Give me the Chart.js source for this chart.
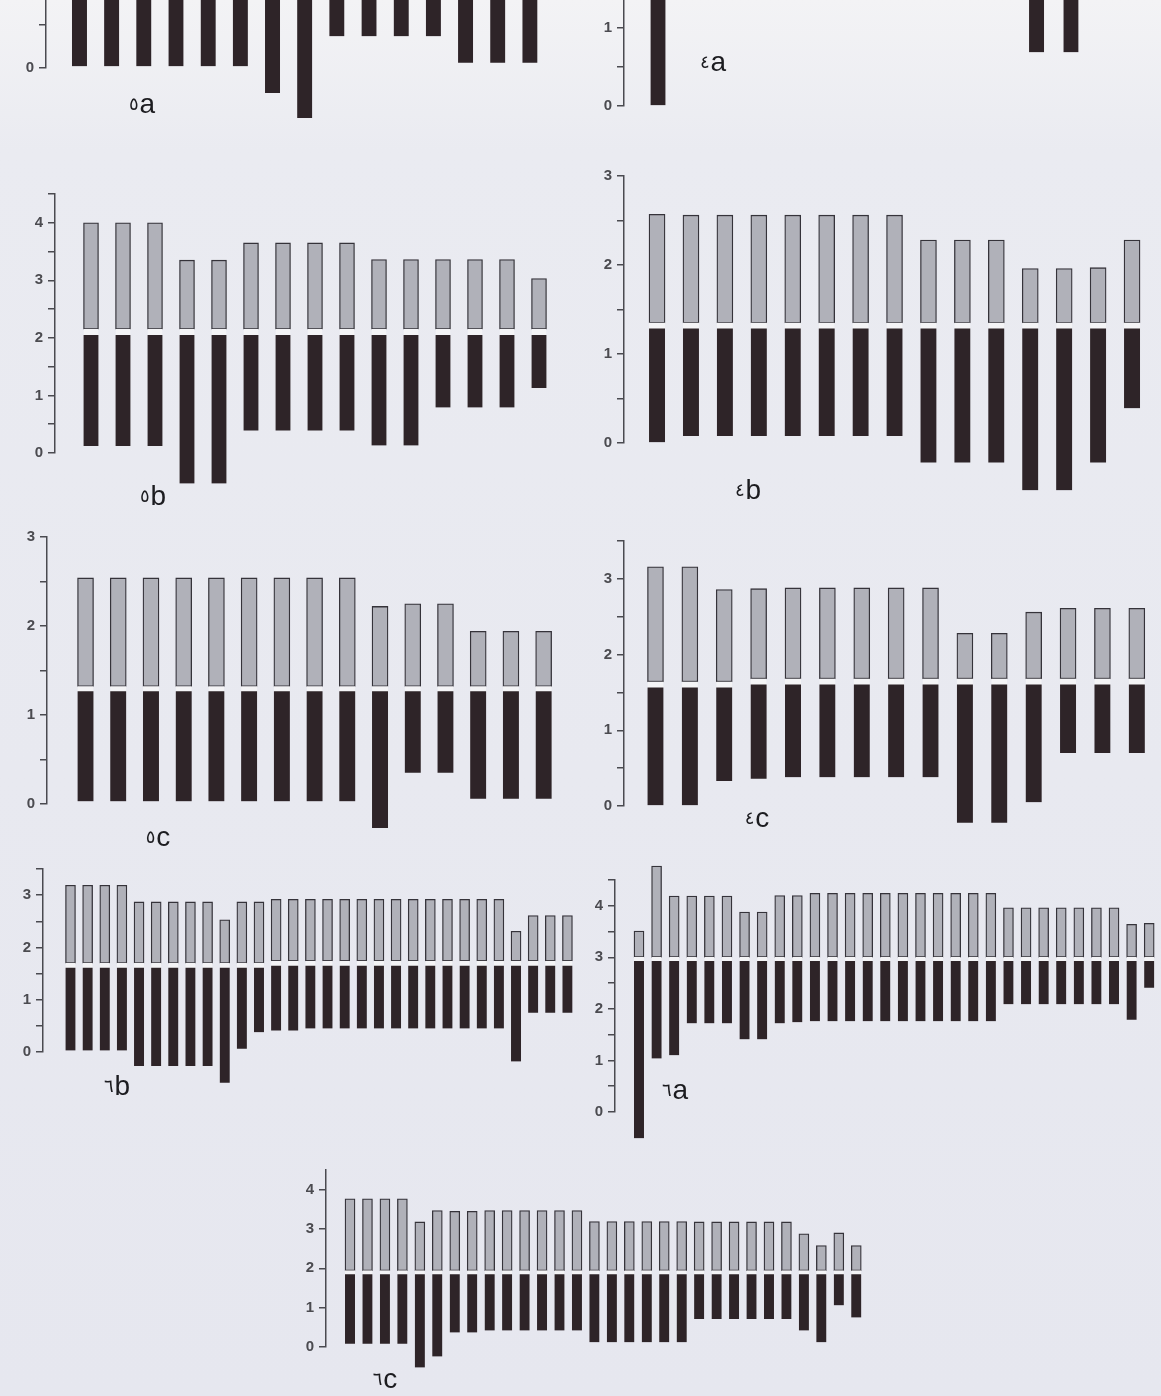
<!DOCTYPE html>
<html>
<head>
<meta charset="utf-8">
<script src="https://cdn.jsdelivr.net/npm/chart.js@4.4.1/dist/chart.umd.min.js"></script>
<style>
  html, body { margin: 0; padding: 0; }
  body {
    width: 1161px; height: 1396px; position: relative; overflow: hidden;
    background: linear-gradient(#f3f3f5 0px, #eaebf1 150px, #e6e7ef 100%);
    font-family: 'Liberation Sans', Arial, sans-serif;
  }
  canvas { position: absolute; }
  .lbl { position: absolute; transform: translate(-50%, -50%); font-size: 28px; color: #1c1c20; white-space: nowrap; }
  .lbl span { font-family: 'DejaVu Sans', sans-serif; font-size: 18px; position: relative; top: -3px; margin-right: 1px; }
</style>
</head>
<body>
<script>
// bar numbers (categories) for the short and the long panels
var bars15 = [1, 2, 3, 4, 5, 6, 7, 8, 9, 10, 11, 12, 13, 14, 15];
var bars30 = [1, 2, 3, 4, 5, 6, 7, 8, 9, 10, 11, 12, 13, 14, 15, 16, 17, 18, 19, 20,
              21, 22, 23, 24, 25, 26, 27, 28, 29, 30];

// low = bottom of dark part, mid = where the grey part starts, high = top of grey part
// 5a / 4a are cut at the top of the page, only the lower ends are visible
var low5a = [0.02, 0.02, 0.02, 0.02, 0.02, 0.02, -0.29, -0.62, 0.37, 0.37, 0.37, 0.37, 0.06, 0.06, 0.06];
var mid5a = 1.3;

var low4a = [0.0, null, null, null, null, null, null, null, null, null, null, 0.69, 0.69, null, null];
var mid4a = 1.45;

var low5b  = [0.12, 0.12, 0.12, -0.53, -0.53, 0.39, 0.39, 0.39, 0.39, 0.13, 0.13, 0.79, 0.79, 0.79, 1.13];
var mid5b  = 2.15;
var high5b = [4.0, 4.0, 4.0, 3.35, 3.35, 3.65, 3.65, 3.65, 3.65, 3.36, 3.36, 3.36, 3.36, 3.36, 3.03];

var low4b  = [0.0, 0.08, 0.08, 0.08, 0.08, 0.08, 0.08, 0.08, -0.22, -0.22, -0.22, -0.53, -0.53, -0.22, 0.39];
var mid4b  = 1.35;
var high4b = [2.57, 2.56, 2.56, 2.56, 2.56, 2.56, 2.56, 2.56, 2.28, 2.28, 2.28, 1.96, 1.96, 1.97, 2.28];

var low5c  = [0.03, 0.03, 0.03, 0.03, 0.03, 0.03, 0.03, 0.03, 0.03, -0.27, 0.35, 0.35, 0.06, 0.06, 0.06];
var mid5c  = 1.32;
var high5c = [2.54, 2.54, 2.54, 2.54, 2.54, 2.54, 2.54, 2.54, 2.54, 2.22, 2.25, 2.25, 1.94, 1.94, 1.94];

var low4c  = [0.01, 0.01, 0.33, 0.36, 0.38, 0.38, 0.38, 0.38, 0.38, -0.22, -0.22, 0.05, 0.7, 0.7, 0.7];
var mid4c  = [1.64, 1.64, 1.64, 1.68, 1.68, 1.68, 1.68, 1.68, 1.68, 1.68, 1.68, 1.68, 1.68, 1.68, 1.68];
var high4c = [3.16, 3.16, 2.86, 2.87, 2.88, 2.88, 2.88, 2.88, 2.88, 2.28, 2.28, 2.56, 2.61, 2.61, 2.61];

var low6b  = [0.03, 0.03, 0.03, 0.03, -0.27, -0.27, -0.27, -0.27, -0.27, -0.59, 0.06, 0.38, 0.41, 0.41, 0.45,
              0.45, 0.45, 0.45, 0.45, 0.45, 0.45, 0.45, 0.45, 0.45, 0.45, 0.45, -0.18, 0.75, 0.75, 0.75];
var mid6b  = [1.7, 1.7, 1.7, 1.7, 1.7, 1.7, 1.7, 1.7, 1.7, 1.7, 1.7, 1.7, 1.74, 1.74, 1.74,
              1.74, 1.74, 1.74, 1.74, 1.74, 1.74, 1.74, 1.74, 1.74, 1.74, 1.74, 1.74, 1.74, 1.74, 1.74];
var high6b = [3.19, 3.19, 3.19, 3.19, 2.87, 2.87, 2.87, 2.87, 2.87, 2.53, 2.87, 2.87, 2.92, 2.92, 2.92,
              2.92, 2.92, 2.92, 2.92, 2.92, 2.92, 2.92, 2.92, 2.92, 2.92, 2.92, 2.31, 2.61, 2.61, 2.61];

var low6a  = [-0.51, 1.04, 1.1, 1.72, 1.72, 1.72, 1.41, 1.41, 1.72, 1.74, 1.76, 1.76, 1.76, 1.76, 1.76,
              1.76, 1.76, 1.76, 1.76, 1.76, 1.76, 2.09, 2.09, 2.09, 2.09, 2.09, 2.09, 2.09, 1.79, 2.41];
var mid6a  = 3.0;
var high6a = [3.51, 4.77, 4.19, 4.19, 4.19, 4.19, 3.88, 3.88, 4.2, 4.2, 4.24, 4.24, 4.24, 4.24, 4.24,
              4.24, 4.24, 4.24, 4.24, 4.24, 4.24, 3.96, 3.96, 3.96, 3.96, 3.96, 3.96, 3.96, 3.64, 3.66];

var low6c  = [0.08, 0.08, 0.08, 0.08, -0.52, -0.24, 0.37, 0.37, 0.42, 0.42, 0.42, 0.42, 0.42, 0.42, 0.12,
              0.12, 0.12, 0.12, 0.12, 0.12, 0.71, 0.71, 0.71, 0.71, 0.71, 0.71, 0.42, 0.12, 1.06, 0.75];
var mid6c  = 1.94;
var high6c = [3.77, 3.77, 3.77, 3.77, 3.18, 3.47, 3.45, 3.45, 3.47, 3.47, 3.47, 3.47, 3.47, 3.47, 3.19,
              3.19, 3.19, 3.19, 3.19, 3.19, 3.18, 3.18, 3.18, 3.18, 3.18, 3.18, 2.88, 2.58, 2.9, 2.58];

var AXIS_W = 40;
var DARK = '#2e2428';
var GREY = '#b0b1b9';
var EDGE = '#35333a';
var GAP = '#f4f4f6';
var AXIS = '#4a4a50';

function val(a, i) {
  return Array.isArray(a) ? a[i] : a;
}

// one panel = one chart, placed on the page by its axis position
function panel(p) {
  var lastPx = p.first + (p.cats.length - 1) * p.spacing;
  var right = lastPx + p.spacing / 2;
  var padTop = p.yTop > 0 ? 20 : 0;
  var padBottom = 50;
  var cv = document.createElement('canvas');
  cv.width = Math.round(AXIS_W + (right - p.axisX) + 4);
  cv.height = Math.round((p.y0 - p.yTop) + padTop + padBottom);
  cv.style.left = (p.axisX - AXIS_W) + 'px';
  cv.style.top = (p.yTop - padTop) + 'px';
  document.body.appendChild(cv);

  var darkPts = [];
  var greyPts = [];
  p.cats.forEach(function (c, i) {
    if (p.low[i] != null) darkPts.push({ x: c, y: [p.low[i], val(p.mid, i)] });
    if (p.high && p.high[i] != null) greyPts.push({ x: c, y: [val(p.mid, i), p.high[i]] });
  });

  var clip = { left: false, right: false, top: p.yTop > 0 ? false : 0, bottom: false };
  var datasets = [{
    data: darkPts,
    backgroundColor: DARK,
    borderColor: GAP,
    borderWidth: { top: p.gap, left: 0, right: 0, bottom: 0 },
    borderSkipped: false,
    barThickness: p.barW,
    grouped: false,
    clip: clip
  }];
  if (greyPts.length) {
    datasets.push({
      data: greyPts,
      backgroundColor: GREY,
      borderColor: EDGE,
      borderWidth: 1.3,
      borderSkipped: false,
      barThickness: p.barW,
      grouped: false,
      clip: clip
    });
  }

  new Chart(cv.getContext('2d'), {
    type: 'bar',
    data: { datasets: datasets },
    options: {
      responsive: false,
      animation: false,
      devicePixelRatio: 1,
      layout: { padding: { top: padTop, bottom: padBottom, left: 0, right: 4 } },
      plugins: { legend: { display: false }, tooltip: { enabled: false } },
      scales: {
        x: {
          type: 'linear', display: false, offset: false,
          min: 1 - (p.first - p.axisX) / p.spacing,
          max: p.cats.length + 0.5
        },
        y: {
          min: 0, max: p.max,
          afterFit: function (s) { s.width = AXIS_W; s.paddingTop = 0; s.paddingBottom = 0; },
          border: { display: true, color: AXIS, width: 1.5 },
          grid: { drawOnChartArea: false, drawTicks: true, tickLength: 7, color: AXIS, lineWidth: 1.5 },
          ticks: {
            stepSize: 0.5, includeBounds: false, padding: 5, color: '#4b4b50',
            font: { family: "'Liberation Sans', Arial, sans-serif", size: 15, weight: 'bold' },
            callback: function (v) {
              return Math.abs(v - Math.round(v)) < 1e-6 ? String(Math.round(v)) : '';
            }
          }
        }
      }
    }
  });
}

function label(num, letter, x, y) {
  var d = document.createElement('div');
  d.className = 'lbl';
  d.innerHTML = '<span>' + num + '</span>' + letter;
  d.style.left = x + 'px';
  d.style.top = y + 'px';
  document.body.appendChild(d);
}

panel({ cats: bars15, low: low5a, mid: mid5a, axisX: 46, y0: 68, yTop: 0, max: 0.79, first: 79.5, spacing: 32.2, barW: 15, gap: 5 });
panel({ cats: bars15, low: low4a, mid: mid4a, axisX: 624, y0: 106, yTop: 0, max: 1.36, first: 658, spacing: 34.4, barW: 15, gap: 5 });
panel({ cats: bars15, low: low5b, mid: mid5b, high: high5b, axisX: 55, y0: 453, yTop: 194, max: 4.5, first: 91, spacing: 32, barW: 15, gap: 6 });
panel({ cats: bars15, low: low4b, mid: mid4b, high: high4b, axisX: 624, y0: 443, yTop: 176, max: 3, first: 657, spacing: 33.9, barW: 16, gap: 6 });
panel({ cats: bars15, low: low5c, mid: mid5c, high: high5c, axisX: 47, y0: 804, yTop: 537, max: 3, first: 85.5, spacing: 32.7, barW: 16, gap: 5 });
panel({ cats: bars15, low: low4c, mid: mid4c, high: high4c, axisX: 624, y0: 806, yTop: 540.7, max: 3.5, first: 655.5, spacing: 34.4, barW: 16, gap: 6 });
panel({ cats: bars30, low: low6b, mid: mid6b, high: high6b, axisX: 42.5, y0: 1052, yTop: 869, max: 3.5, first: 70, spacing: 17.14, barW: 10, gap: 5 });
panel({ cats: bars30, low: low6a, mid: mid6a, high: high6a, axisX: 615, y0: 1112, yTop: 880, max: 4.5, first: 639, spacing: 17.6, barW: 10, gap: 4 });
panel({ cats: bars30, low: low6c, mid: mid6c, high: high6c, axisX: 326, y0: 1347, yTop: 1170, max: 4.5, first: 350, spacing: 17.45, barW: 10, gap: 4 });

label('٥', 'a', 142, 104);
label('٤', 'a', 713, 62);
label('٥', 'b', 153, 496);
label('٤', 'b', 748, 490);
label('٥', 'c', 158, 837);
label('٤', 'c', 757, 818);
label('٦', 'b', 117, 1086);
label('٦', 'a', 675, 1090);
label('٦', 'c', 385, 1379);
</script>
</body>
</html>
